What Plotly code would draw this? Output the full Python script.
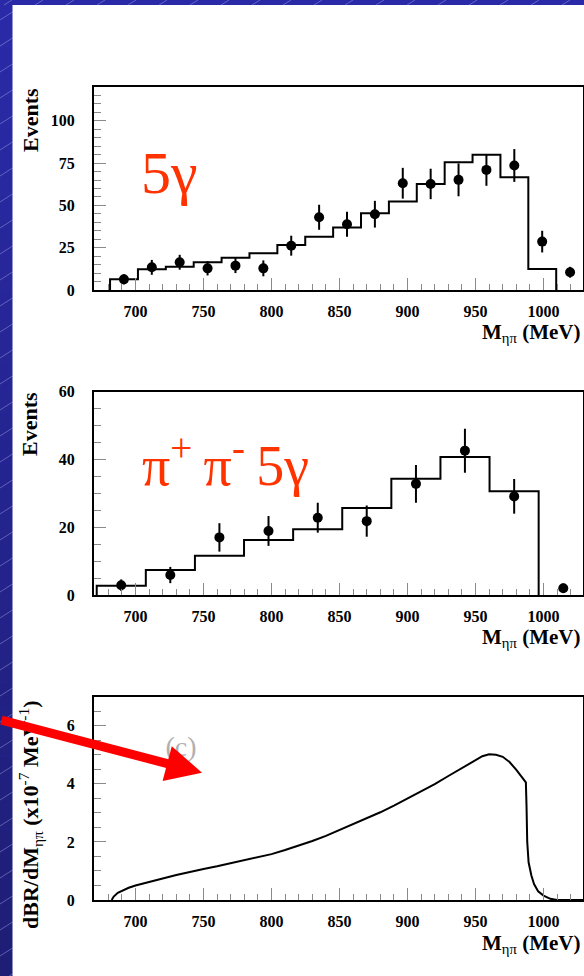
import plotly.graph_objects as go

W, H = 584, 976

# ---------------- data ----------------
# (a) 5 gamma sample: histogram (MC) bin edges and contents, data points with errors
edges_a = [681.3, 701.8, 722.3, 742.8, 763.3, 783.8, 804.3, 824.8, 845.3,
           865.8, 886.3, 906.8, 927.3, 947.8, 968.3, 988.8, 1009.3]
hist_a = [6.3, 12.2, 13.8, 16.4, 19.1, 21.7, 26.6, 31.5, 36.9, 45.4, 52.3,
          62.7, 75.5, 79.9, 66.7, 12.4]
pts_a_x = [691.5, 712, 732.5, 753, 773.5, 794, 814.5, 835, 855.5, 876, 896.5,
           917, 937.5, 958, 978.5, 999, 1019.5]
pts_a_y = [6.3, 13.4, 16.4, 12.8, 14.4, 12.8, 26.2, 43.0, 38.9, 44.8, 63.1,
           62.7, 65.1, 71.0, 73.6, 28.6, 10.5]
pts_a_err = [3.0, 4.4, 4.4, 4.2, 4.4, 4.7, 5.9, 7.4, 7.4, 7.9, 9.1, 9.0, 9.7,
             9.4, 9.7, 6.4, 3.2]

# (b) pi+ pi- 5 gamma sample
edges_b = [671.5, 707.6, 743.7, 779.8, 815.9, 852.0, 888.1, 924.2, 960.3, 996.4]
hist_b = [2.7, 7.4, 11.6, 16.2, 19.4, 25.7, 34.3, 40.7, 30.6]
pts_b_x = [689.5, 725.6, 761.7, 797.8, 834.0, 870.0, 906.2, 942.2, 978.4, 1014.5]
pts_b_y = [2.9, 5.9, 17.0, 18.9, 22.8, 21.8, 32.8, 42.6, 29.1, 2.0]
pts_b_err = [1.7, 2.4, 4.2, 4.4, 4.4, 4.6, 5.6, 6.5, 5.1, 1.4]

# (c) dBR/dM spectrum (x1e-7 MeV^-1)
curve_x = [682.5, 684, 687, 690, 695, 700, 710, 720, 730, 740, 750, 760, 770,
           780, 790, 800, 810, 820, 830, 840, 850, 860, 870, 880, 890, 900,
           910, 920, 930, 940, 950, 955, 960, 965, 970, 975, 980, 985, 987,
           987.5, 988, 989, 991, 993, 996, 1000, 1005, 1010, 1029]
curve_y = [0, 0.12, 0.25, 0.32, 0.42, 0.50, 0.63, 0.74, 0.86, 0.97, 1.07,
           1.16, 1.26, 1.36, 1.47, 1.58, 1.72, 1.87, 2.03, 2.21, 2.41, 2.60,
           2.80, 3.02, 3.25, 3.50, 3.74, 3.99, 4.27, 4.55, 4.83, 4.95, 5.02,
           5.00, 4.93, 4.75, 4.48, 4.17, 4.05, 3.2, 2.0, 1.3, 0.85, 0.55,
           0.30, 0.15, 0.04, 0.0, 0.0]

x_ticks = [700, 750, 800, 850, 900, 950, 1000]
y_ticks_a = [0, 25, 50, 75, 100]
y_ticks_b = [0, 20, 40, 60]
y_ticks_c = [0, 2, 4, 6]

# ---------------- figure ----------------
SERIF = "Liberation Serif"
fig = go.Figure()


def hist_trace(edges, heights, xa, ya):
    xs = [edges[0]] + list(edges)
    ys = [0] + list(heights) + [0]
    return go.Scatter(x=xs, y=ys, mode="lines", line=dict(shape="hv", color="black", width=2),
                      xaxis=xa, yaxis=ya, hoverinfo="skip", showlegend=False)


def pts_trace(xs, ys, errs, xa, ya):
    return go.Scatter(x=xs, y=ys, mode="markers",
                      marker=dict(symbol="circle", size=10, color="black"),
                      error_y=dict(type="data", array=errs, visible=True, color="black",
                                   thickness=2, width=0),
                      xaxis=xa, yaxis=ya, showlegend=False)


fig.add_trace(hist_trace(edges_a, hist_a, "x", "y"))
fig.add_trace(pts_trace(pts_a_x, pts_a_y, pts_a_err, "x", "y"))
fig.add_trace(hist_trace(edges_b, hist_b, "x2", "y2"))
fig.add_trace(pts_trace(pts_b_x, pts_b_y, pts_b_err, "x2", "y2"))
fig.add_trace(go.Scatter(x=curve_x, y=curve_y, mode="lines",
                         line=dict(color="black", width=2), xaxis="x3", yaxis="y3",
                         showlegend=False))
fig.add_trace(go.Scatter(x=[733.4], y=[5.19], mode="text", text=["(c)"],
                         textfont=dict(family=SERIF, size=28, color="#b0b0b0"),
                         xaxis="x3", yaxis="y3", showlegend=False))


def px(x):
    return x / W


def py(y):
    return 1 - y / H


def xaxis(anchor, top, bottom):
    return dict(domain=[px(94), px(583)], anchor=anchor, range=[669.5, 1029],
                tickmode="array", tickvals=x_ticks, ticks="inside", ticklen=12,
                tickcolor="#8a8a8a", tickwidth=1,
                minor=dict(dtick=10, tick0=0, ticks="inside", ticklen=6, tickcolor="#8a8a8a"),
                showline=True, mirror=True, linecolor="black", linewidth=2,
                showgrid=False, zeroline=False, ticklabelstandoff=6, automargin=False,
                tickfont=dict(family=SERIF, size=16, color="black", weight="bold"))


def yaxis(anchor, top, bottom, rng, ticks, minor):
    return dict(domain=[py(bottom), py(top)], anchor=anchor, range=rng,
                tickmode="array", tickvals=ticks, ticks="inside", ticklen=12,
                tickcolor="#8a8a8a", tickwidth=1,
                minor=dict(dtick=minor, tick0=0, ticks="inside", ticklen=7, tickcolor="#8a8a8a"),
                showline=True, mirror=True, linecolor="black", linewidth=2,
                showgrid=False, zeroline=False, ticklabelstandoff=14, automargin=False,
                tickfont=dict(family=SERIF, size=16, color="black", weight="bold"))


panels = [(87, 290), (391.7, 595), (696.7, 900)]
fig.update_layout(
    xaxis=xaxis("y", *panels[0]),
    yaxis=yaxis("x", *panels[0], [0, 120], y_ticks_a, 5),
    xaxis2=xaxis("y2", *panels[1]),
    yaxis2=yaxis("x2", *panels[1], [0, 60], y_ticks_b, 5),
    xaxis3=xaxis("y3", *panels[2]),
    yaxis3=yaxis("x3", *panels[2], [0, 7], y_ticks_c, 0.5),
)

# ---------------- background decoration ----------------
shapes = []
top_col = (42, 42, 168)
bot_col = (30, 30, 118)
nb = 40
for i in range(nb):
    f = i / (nb - 1)
    c = tuple(int(round(top_col[k] + (bot_col[k] - top_col[k]) * f)) for k in range(3))
    shapes.append(dict(type="rect", xref="paper", yref="paper", x0=0, x1=px(13),
                       y0=py(H * (i + 1) / nb), y1=py(H * i / nb),
                       fillcolor="rgb(%d,%d,%d)" % c, line=dict(width=0), layer="below"))
shapes.append(dict(type="rect", xref="paper", yref="paper", x0=px(12.5), x1=1,
                   y0=0, y1=py(5), fillcolor="white", line=dict(width=0), layer="below"))
# faint diagonal texture
for k in range(38):
    y0 = 12 + 26 * k
    shapes.append(dict(type="line", xref="paper", yref="paper",
                       x0=0, y0=py(y0 + 8), x1=px(12.5), y1=py(y0),
                       line=dict(color="rgba(170,170,235,0.45)", width=1), layer="below"))
for k in range(20):
    x0 = 4 + 31 * k
    shapes.append(dict(type="line", xref="paper", yref="paper",
                       x0=px(x0), y0=py(5), x1=px(x0 + 8), y1=1,
                       line=dict(color="rgba(170,170,235,0.45)", width=1), layer="below"))

ann = []
title_font = dict(family=SERIF, size=22, color="black")
for yc, txt in [(120, "<b>Events</b>"), (424, "<b>Events</b>"),
                (815, "<b>dBR/dM</b><sub>ηπ</sub><b> (x10</b><sup>-7</sup><b> MeV</b><sup>-1</sup><b>)</b>")]:
    ann.append(dict(xref="paper", yref="paper", x=px(30), y=py(yc), text=txt,
                    textangle=-90, showarrow=False, font=title_font,
                    xanchor="center", yanchor="middle"))
for yc in [333, 638, 944]:
    ann.append(dict(xref="paper", yref="paper", x=px(582), y=py(yc),
                    text="<b>M</b><sub>ηπ</sub><b> (MeV)</b>", showarrow=False,
                    font=dict(family=SERIF, size=21, color="black"),
                    xanchor="right", yanchor="middle"))
ann.append(dict(xref="paper", yref="paper", x=px(139), y=py(173), text="5γ",
                showarrow=False, font=dict(family=SERIF, size=60, color="#ff3300"),
                xanchor="left", yanchor="middle"))
ann.append(dict(xref="paper", yref="paper", x=px(140), y=py(461),
                text="π<sup>+</sup>\u2009π<sup>-</sup>\u20095γ",
                showarrow=False, font=dict(family=SERIF, size=56, color="#ff3300"),
                xanchor="left", yanchor="middle"))
# red arrow
ann.append(dict(xref="paper", yref="paper", x=px(202), y=py(772.7), text="",
                showarrow=True, axref="pixel", ayref="pixel", ax=-202, ay=-53,
                arrowcolor="#ff0000", arrowwidth=9, arrowhead=2, arrowsize=0.8,
                standoff=0))

fig.update_layout(
    width=W, height=H, margin=dict(l=0, r=0, t=0, b=0, autoexpand=False),
    paper_bgcolor="rgb(42,42,168)", plot_bgcolor="white",
    showlegend=False, shapes=shapes, annotations=ann,
)

fig.write_html("out.html")
